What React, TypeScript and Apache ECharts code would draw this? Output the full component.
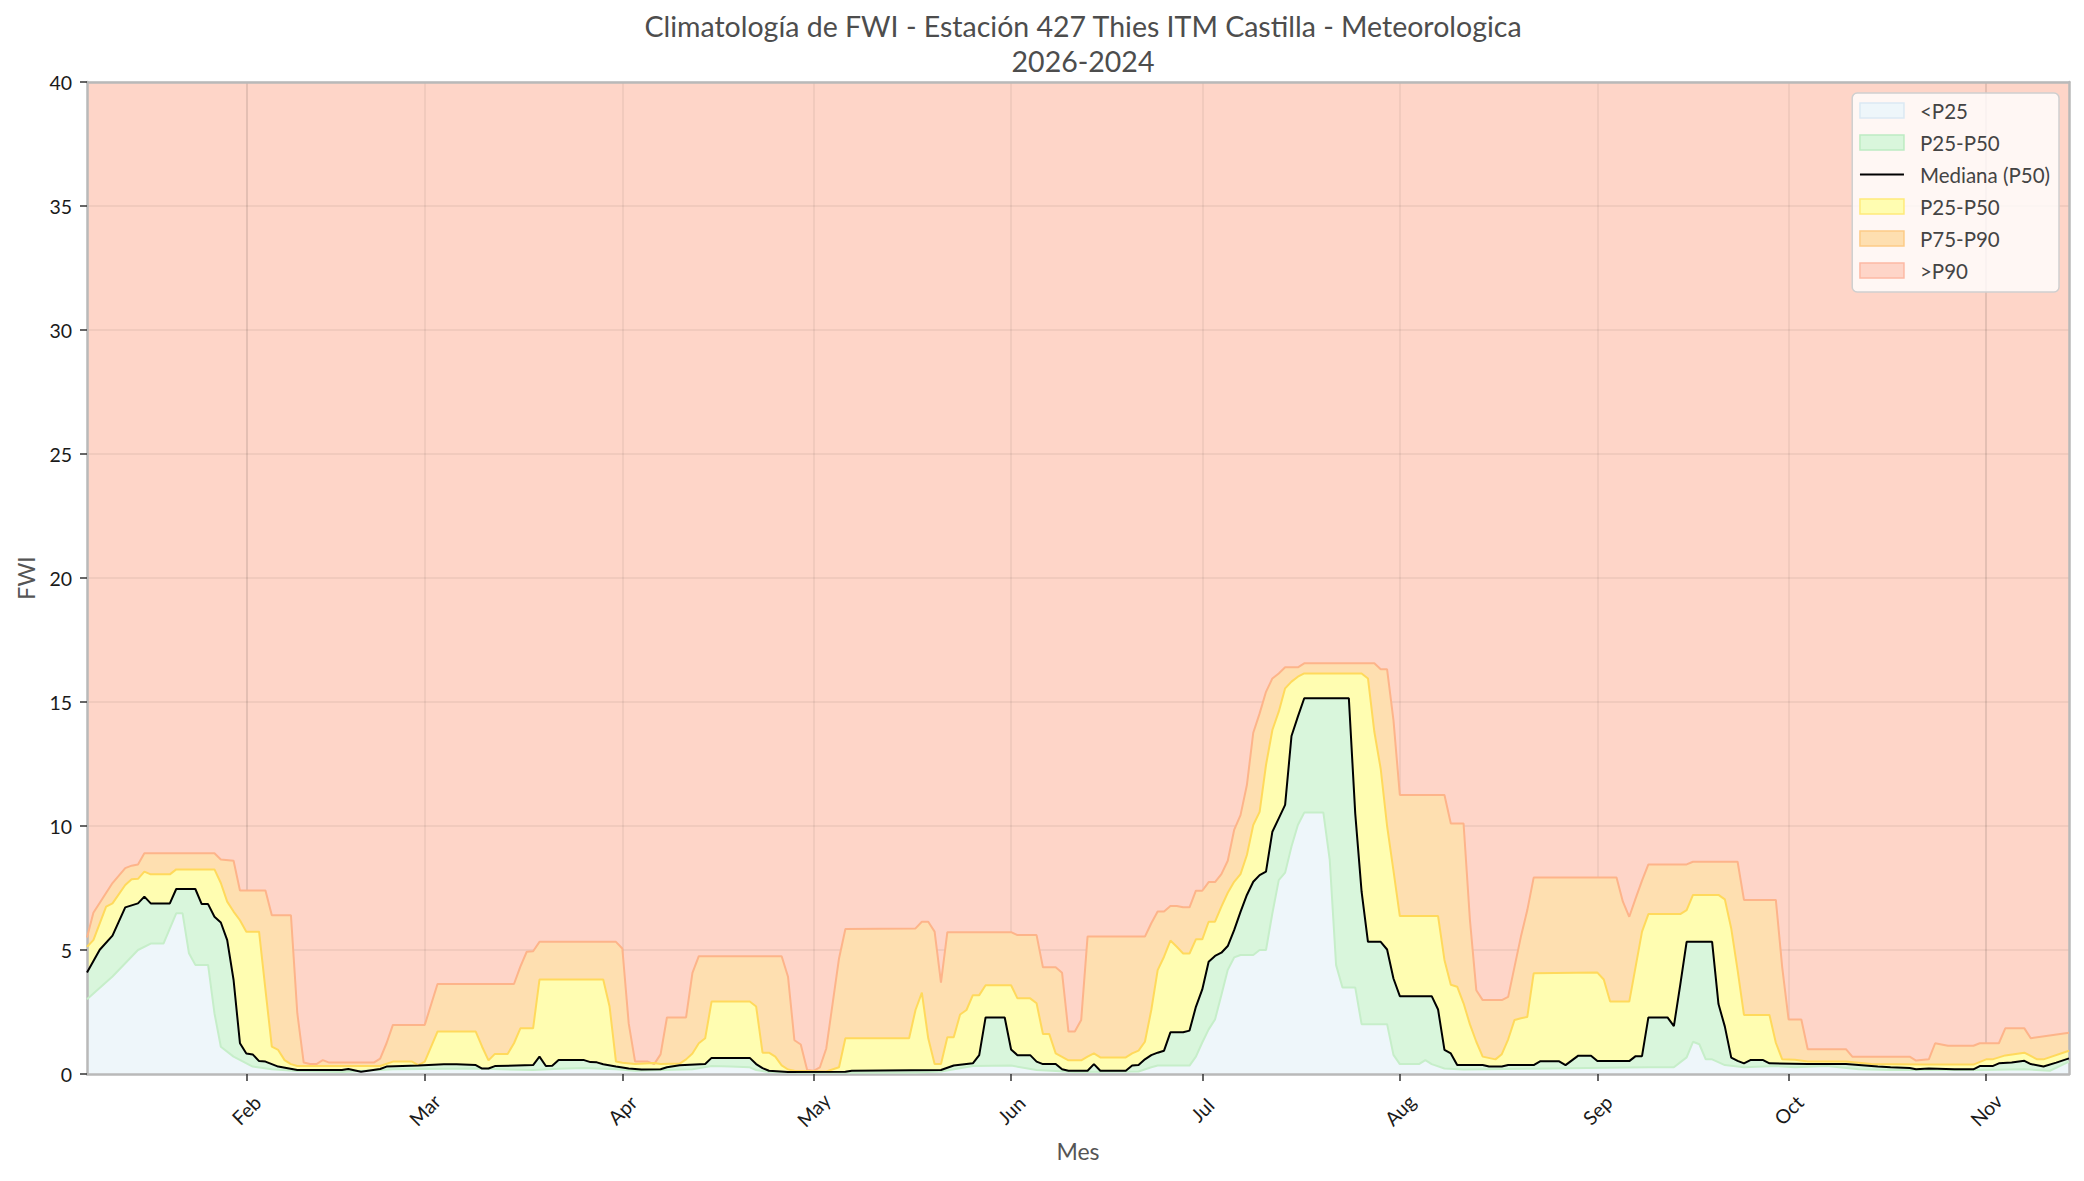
import { useEffect, useRef } from "react";
import * as echarts from "echarts";

const YEAR = 2023;
const FONT = "Lato, 'Open Sans', sans-serif";

// [MM-DD, FWI]
const p90Pts: [string, number][] = [
  ["01-07", 5.5], ["01-08", 6.5], ["01-11", 7.7], ["01-13", 8.3], ["01-14", 8.4], ["01-15", 8.45], ["01-16", 8.9],
  ["01-27", 8.9], ["01-28", 8.65], ["01-30", 8.6], ["01-31", 7.4], ["02-04", 7.4], ["02-05", 6.4], ["02-08", 6.4],
  ["02-09", 2.45], ["02-10", 0.46], ["02-11", 0.4], ["02-12", 0.4], ["02-13", 0.56], ["02-14", 0.46], ["02-21", 0.46],
  ["02-22", 0.62], ["02-23", 1.24], ["02-24", 1.98], ["03-01", 1.98], ["03-03", 3.63], ["03-15", 3.63], ["03-16", 4.33],
  ["03-17", 4.93], ["03-18", 4.95], ["03-19", 5.33], ["03-31", 5.33], ["04-01", 5.06], ["04-02", 2.04], ["04-03", 0.5],
  ["04-05", 0.5], ["04-06", 0.4], ["04-07", 0.79], ["04-08", 2.28], ["04-11", 2.28], ["04-12", 4.08], ["04-13", 4.75],
  ["04-26", 4.75], ["04-27", 3.92], ["04-28", 1.36], ["04-29", 1.19], ["04-30", 0.16], ["05-01", 0.13], ["05-02", 0.27],
  ["05-03", 1.03], ["05-05", 4.66], ["05-06", 5.85], ["05-17", 5.87], ["05-18", 6.14], ["05-19", 6.14], ["05-20", 5.74],
  ["05-21", 3.68], ["05-22", 5.72], ["06-01", 5.72], ["06-02", 5.6], ["06-05", 5.6], ["06-06", 4.3], ["06-08", 4.3],
  ["06-09", 4.08], ["06-10", 1.71], ["06-11", 1.71], ["06-12", 2.18], ["06-13", 5.54], ["06-22", 5.54], ["06-23", 6.08],
  ["06-24", 6.55], ["06-25", 6.55], ["06-26", 6.77], ["06-27", 6.77], ["06-28", 6.72], ["06-29", 6.72], ["06-30", 7.39],
  ["07-01", 7.39], ["07-02", 7.74], ["07-03", 7.74], ["07-04", 8.06], ["07-05", 8.6], ["07-06", 9.84], ["07-07", 10.44],
  ["07-08", 11.65], ["07-09", 13.76], ["07-10", 14.54], ["07-11", 15.41], ["07-12", 15.95], ["07-13", 16.15], ["07-14", 16.4],
  ["07-16", 16.4], ["07-17", 16.56], ["07-28", 16.56], ["07-29", 16.32], ["07-30", 16.32], ["07-31", 14.27], ["08-01", 11.25],
  ["08-08", 11.25], ["08-09", 10.1], ["08-11", 10.1], ["08-12", 6.21], ["08-13", 3.38], ["08-14", 2.98], ["08-17", 2.98],
  ["08-18", 3.11], ["08-19", 4.33], ["08-20", 5.54], ["08-21", 6.61], ["08-22", 7.92], ["09-04", 7.92], ["09-05", 6.95],
  ["09-06", 6.34], ["09-07", 7.08], ["09-08", 7.8], ["09-09", 8.45], ["09-15", 8.45], ["09-16", 8.56], ["09-23", 8.56],
  ["09-24", 7.02], ["09-29", 7.02], ["09-30", 4.3], ["10-01", 2.2], ["10-03", 2.2], ["10-04", 1.0], ["10-10", 1.0],
  ["10-11", 0.7], ["10-20", 0.7], ["10-21", 0.54], ["10-23", 0.59], ["10-24", 1.24], ["10-26", 1.14], ["10-30", 1.14],
  ["10-31", 1.24], ["11-03", 1.24], ["11-04", 1.84], ["11-07", 1.84], ["11-08", 1.44], ["11-14", 1.66],
];

const p75Pts: [string, number][] = [
  ["01-07", 5.13], ["01-08", 5.4], ["01-10", 6.75], ["01-11", 6.88], ["01-13", 7.62], ["01-14", 7.85], ["01-15", 7.87],
  ["01-16", 8.16], ["01-17", 8.05], ["01-20", 8.05], ["01-21", 8.25], ["01-27", 8.25], ["01-28", 7.7], ["01-29", 6.95],
  ["01-30", 6.55], ["01-31", 6.2], ["02-01", 5.74], ["02-03", 5.74], ["02-04", 3.4], ["02-05", 1.1], ["02-06", 0.97],
  ["02-07", 0.56], ["02-08", 0.4], ["02-09", 0.32], ["02-22", 0.32], ["02-24", 0.5], ["02-27", 0.5], ["02-28", 0.36],
  ["03-01", 0.5], ["03-03", 1.71], ["03-09", 1.71], ["03-10", 1.1], ["03-11", 0.55], ["03-12", 0.81], ["03-14", 0.81],
  ["03-15", 1.24], ["03-16", 1.84], ["03-18", 1.84], ["03-19", 3.81], ["03-29", 3.81], ["03-30", 2.72], ["03-31", 0.5],
  ["04-01", 0.45], ["04-03", 0.4], ["04-06", 0.44], ["04-07", 0.4], ["04-10", 0.42], ["04-11", 0.59], ["04-12", 0.83],
  ["04-13", 1.24], ["04-14", 1.44], ["04-15", 2.92], ["04-21", 2.92], ["04-22", 2.72], ["04-23", 0.86], ["04-24", 0.86],
  ["04-25", 0.7], ["04-26", 0.35], ["04-27", 0.18], ["04-28", 0.13], ["05-03", 0.1], ["05-05", 0.27], ["05-06", 1.44],
  ["05-16", 1.44], ["05-17", 2.58], ["05-18", 3.28], ["05-19", 1.44], ["05-20", 0.4], ["05-21", 0.4], ["05-22", 1.48],
  ["05-23", 1.48], ["05-24", 2.4], ["05-25", 2.58], ["05-26", 3.18], ["05-27", 3.18], ["05-28", 3.58], ["06-01", 3.58],
  ["06-02", 3.05], ["06-04", 3.05], ["06-05", 2.85], ["06-06", 1.61], ["06-07", 1.61], ["06-08", 0.83], ["06-10", 0.55],
  ["06-12", 0.55], ["06-13", 0.7], ["06-14", 0.83], ["06-15", 0.67], ["06-19", 0.67], ["06-20", 0.83], ["06-21", 0.94],
  ["06-22", 1.3], ["06-23", 2.58], ["06-24", 4.19], ["06-25", 4.73], ["06-26", 5.38], ["06-27", 5.13], ["06-28", 4.86],
  ["06-29", 4.86], ["06-30", 5.43], ["07-01", 5.43], ["07-02", 6.14], ["07-03", 6.14], ["07-04", 6.75], ["07-05", 7.31],
  ["07-06", 7.75], ["07-07", 8.06], ["07-08", 8.83], ["07-09", 10.04], ["07-10", 10.57], ["07-11", 12.46], ["07-12", 13.87],
  ["07-13", 14.61], ["07-14", 15.55], ["07-15", 15.82], ["07-16", 16.02], ["07-17", 16.15], ["07-26", 16.15], ["07-27", 15.95],
  ["07-28", 13.8], ["07-29", 12.3], ["07-30", 10.0], ["07-31", 8.2], ["08-01", 6.37], ["08-07", 6.37], ["08-08", 4.6],
  ["08-09", 3.6], ["08-10", 3.52], ["08-11", 2.85], ["08-12", 2.0], ["08-13", 1.3], ["08-14", 0.7], ["08-16", 0.59],
  ["08-17", 0.8], ["08-18", 1.4], ["08-19", 2.18], ["08-20", 2.25], ["08-21", 2.3], ["08-22", 4.06], ["09-01", 4.09],
  ["09-02", 3.81], ["09-03", 2.92], ["09-06", 2.92], ["09-07", 4.33], ["09-08", 5.74], ["09-09", 6.45], ["09-14", 6.45],
  ["09-15", 6.61], ["09-16", 7.22], ["09-20", 7.22], ["09-21", 7.04], ["09-22", 5.87], ["09-23", 4.19], ["09-24", 2.38],
  ["09-28", 2.38], ["09-29", 1.26], ["09-30", 0.59], ["10-02", 0.57], ["10-04", 0.5], ["10-10", 0.5], ["10-14", 0.4],
  ["10-22", 0.38], ["10-30", 0.38], ["11-01", 0.59], ["11-02", 0.59], ["11-04", 0.75], ["11-07", 0.86], ["11-09", 0.59],
  ["11-10", 0.59], ["11-14", 0.94],
];

const p50Pts: [string, number][] = [
  ["01-07", 4.09], ["01-09", 5.01], ["01-11", 5.58], ["01-13", 6.72], ["01-15", 6.88], ["01-16", 7.15], ["01-17", 6.88],
  ["01-20", 6.88], ["01-21", 7.46], ["01-24", 7.46], ["01-25", 6.85], ["01-26", 6.85], ["01-27", 6.34], ["01-28", 6.11],
  ["01-29", 5.4], ["01-30", 3.79], ["01-31", 1.24], ["02-01", 0.83], ["02-02", 0.79], ["02-03", 0.52], ["02-04", 0.5],
  ["02-06", 0.3], ["02-09", 0.16], ["02-16", 0.16], ["02-17", 0.2], ["02-19", 0.09], ["02-22", 0.2], ["02-23", 0.3],
  ["02-28", 0.34], ["03-04", 0.39], ["03-06", 0.39], ["03-09", 0.36], ["03-10", 0.22], ["03-11", 0.22], ["03-12", 0.32],
  ["03-18", 0.36], ["03-19", 0.7], ["03-20", 0.32], ["03-21", 0.33], ["03-22", 0.56], ["03-26", 0.56], ["03-27", 0.48],
  ["03-28", 0.47], ["03-29", 0.39], ["03-31", 0.3], ["04-02", 0.22], ["04-04", 0.18], ["04-07", 0.19], ["04-08", 0.27],
  ["04-10", 0.35], ["04-14", 0.4], ["04-15", 0.65], ["04-21", 0.65], ["04-22", 0.4], ["04-23", 0.24], ["04-24", 0.13],
  ["04-27", 0.08], ["05-06", 0.09], ["05-07", 0.13], ["05-21", 0.16], ["05-23", 0.34], ["05-26", 0.43], ["05-27", 0.76],
  ["05-28", 2.28], ["05-31", 2.28], ["06-01", 0.99], ["06-02", 0.76], ["06-04", 0.76], ["06-05", 0.5], ["06-06", 0.4],
  ["06-08", 0.4], ["06-09", 0.19], ["06-10", 0.13], ["06-13", 0.13], ["06-14", 0.4], ["06-15", 0.13], ["06-19", 0.13],
  ["06-20", 0.34], ["06-21", 0.36], ["06-22", 0.59], ["06-23", 0.76], ["06-24", 0.86], ["06-25", 0.94], ["06-26", 1.68],
  ["06-28", 1.68], ["06-29", 1.75], ["06-30", 2.71], ["07-01", 3.41], ["07-02", 4.53], ["07-03", 4.76], ["07-04", 4.89],
  ["07-05", 5.16], ["07-06", 5.8], ["07-07", 6.54], ["07-08", 7.22], ["07-09", 7.75], ["07-10", 8.02], ["07-11", 8.16],
  ["07-12", 9.77], ["07-13", 10.31], ["07-14", 10.85], ["07-15", 13.63], ["07-16", 14.41], ["07-17", 15.15], ["07-24", 15.15],
  ["07-25", 10.51], ["07-26", 7.35], ["07-27", 5.33], ["07-29", 5.33], ["07-30", 5.02], ["07-31", 3.85], ["08-01", 3.14],
  ["08-06", 3.14], ["08-07", 2.6], ["08-08", 0.97], ["08-09", 0.83], ["08-10", 0.36], ["08-14", 0.36], ["08-15", 0.3],
  ["08-17", 0.3], ["08-18", 0.36], ["08-22", 0.36], ["08-23", 0.51], ["08-26", 0.51], ["08-27", 0.36], ["08-29", 0.74],
  ["08-31", 0.74], ["09-01", 0.52], ["09-06", 0.52], ["09-07", 0.72], ["09-08", 0.72], ["09-09", 2.28], ["09-12", 2.28],
  ["09-13", 1.93], ["09-14", 3.59], ["09-15", 5.33], ["09-19", 5.33], ["09-20", 2.82], ["09-21", 1.91], ["09-22", 0.66],
  ["09-23", 0.53], ["09-24", 0.43], ["09-25", 0.56], ["09-27", 0.56], ["09-28", 0.43], ["10-04", 0.4], ["10-10", 0.4],
  ["10-12", 0.36], ["10-15", 0.3], ["10-17", 0.27], ["10-20", 0.24], ["10-21", 0.19], ["10-23", 0.22], ["10-27", 0.19],
  ["10-30", 0.19], ["10-31", 0.32], ["11-02", 0.32], ["11-03", 0.43], ["11-05", 0.46], ["11-07", 0.53], ["11-08", 0.4],
  ["11-10", 0.3], ["11-12", 0.46], ["11-14", 0.63],
];

const p25Pts: [string, number][] = [
  ["01-07", 3.01], ["01-11", 3.93], ["01-15", 5.0], ["01-17", 5.26], ["01-19", 5.26], ["01-21", 6.48], ["01-22", 6.48],
  ["01-23", 4.87], ["01-24", 4.4], ["01-26", 4.4], ["01-27", 2.45], ["01-28", 1.1], ["01-30", 0.7], ["02-02", 0.3],
  ["02-05", 0.19], ["02-09", 0.12], ["02-16", 0.08], ["02-24", 0.19], ["03-09", 0.22], ["03-18", 0.16], ["03-22", 0.21],
  ["03-26", 0.24], ["03-31", 0.19], ["04-03", 0.13], ["04-12", 0.19], ["04-15", 0.32], ["04-18", 0.3], ["04-21", 0.27],
  ["04-22", 0.16], ["04-24", 0.08], ["04-29", 0.05], ["05-17", 0.06], ["05-21", 0.1], ["05-26", 0.32], ["06-01", 0.34],
  ["06-05", 0.16], ["06-11", 0.08], ["06-21", 0.1], ["06-23", 0.27], ["06-24", 0.34], ["06-29", 0.34], ["06-30", 0.7],
  ["07-01", 1.27], ["07-02", 1.8], ["07-03", 2.2], ["07-04", 3.19], ["07-05", 4.2], ["07-06", 4.7], ["07-07", 4.8],
  ["07-09", 4.8], ["07-10", 5.0], ["07-11", 5.0], ["07-12", 6.48], ["07-13", 7.82], ["07-14", 8.12], ["07-15", 9.17],
  ["07-16", 10.04], ["07-17", 10.54], ["07-20", 10.54], ["07-21", 8.63], ["07-22", 4.39], ["07-23", 3.49], ["07-25", 3.49],
  ["07-26", 2.01], ["07-30", 2.01], ["07-31", 0.77], ["08-01", 0.4], ["08-04", 0.4], ["08-05", 0.56], ["08-06", 0.4],
  ["08-08", 0.22], ["08-11", 0.18], ["08-24", 0.22], ["09-09", 0.27], ["09-13", 0.27], ["09-15", 0.67], ["09-16", 1.3],
  ["09-17", 1.2], ["09-18", 0.59], ["09-19", 0.59], ["09-21", 0.36], ["09-24", 0.27], ["09-29", 0.32], ["10-02", 0.27],
  ["10-07", 0.32], ["10-12", 0.19], ["10-17", 0.16], ["10-31", 0.16], ["11-07", 0.19], ["11-11", 0.13], ["11-14", 0.5],
];

const monthTicks: string[] = ["02-01", "03-01", "04-01", "05-01", "06-01", "07-01", "08-01", "09-01", "10-01", "11-01"];
const yTicks = { min: 0, max: 40, step: 5 };
const xRange = { start: "01-07", end: "11-14" };

const C_BLUE = "#EEF6FA";
const C_GREEN = "#D9F6DC";
const C_YELLOW = "#FFFDB1";
const C_ORANGE = "#FEDFB0";
const C_SALMON = "#FED5C8";

const ts = (md: string) => {
  const [m, d] = md.split("-").map(Number);
  return new Date(YEAR, m - 1, d).getTime();
};
const toSeries = (pts: [string, number][]) => pts.map(([md, v]) => [ts(md), v]);

export default function App() {
  const ref = useRef<HTMLDivElement>(null);
  useEffect(() => {
    document.body.style.margin = "0";
    if (!ref.current) return;
    const chart = echarts.init(ref.current, null, { renderer: "svg" });
    const tickVals = monthTicks.map(ts);
    const axisName = { fontSize: 23, color: "#555", fontFamily: FONT };
    const spine = { show: true, onZero: false, lineStyle: { color: "#b9b9b9", width: 2.5 } };
    const grid = { show: true, lineStyle: { color: "rgba(0,0,0,0.07)", width: 1.5 } };
    const option: any = {
      animation: false,
      textStyle: { fontFamily: FONT },
      title: {
        text: "Climatología de FWI - Estación 427 Thies ITM Castilla - Meteorologica\n2026-2024",
        left: 1078,
        top: 3,
        textAlign: "center",
        textStyle: { fontSize: 28.5, fontWeight: "normal", color: "#4d4d4d", lineHeight: 35, fontFamily: FONT },
      },
      grid: { left: 87, right: 15, top: 82, bottom: 107, show: true, backgroundColor: C_SALMON, borderWidth: 0 },
      legend: {
        orient: "vertical",
        right: 25,
        top: 93,
        itemWidth: 44,
        itemHeight: 15,
        itemGap: 11,
        padding: [7, 9, 11, 7],
        backgroundColor: "rgba(255,255,255,0.8)",
        borderColor: "#cfcfcf",
        borderWidth: 1.5,
        borderRadius: 5,
        textStyle: { fontSize: 20.5, color: "#444", lineHeight: 20, padding: [0, 0, 0, 11], fontFamily: FONT },
        formatter: (n: string) => (n === "P50-P75" ? "P25-P50" : n),
        data: [
          { name: "<P25", icon: "rect", itemStyle: { color: C_BLUE, borderColor: "#dbe9f3", borderWidth: 1.5 } },
          { name: "P25-P50", icon: "rect", itemStyle: { color: C_GREEN, borderColor: "#bdebc2", borderWidth: 1.5 } },
          { name: "Mediana (P50)", icon: "path://M0,0H40V2H0Z", itemStyle: { color: "#000" } },
          { name: "P50-P75", icon: "rect", itemStyle: { color: C_YELLOW, borderColor: "#ffea7a", borderWidth: 1.5 } },
          { name: "P75-P90", icon: "rect", itemStyle: { color: C_ORANGE, borderColor: "#fdcb86", borderWidth: 1.5 } },
          { name: ">P90", icon: "rect", itemStyle: { color: C_SALMON, borderColor: "#fdb9a4", borderWidth: 1.5 } },
        ],
      },
      xAxis: [
        {
          type: "time",
          min: ts(xRange.start),
          max: ts(xRange.end),
          z: 3,
          axisLine: spine,
          axisTick: { show: true, length: 7, customValues: tickVals, lineStyle: { color: "#333", width: 1.5 } },
          axisLabel: {
            customValues: tickVals,
            formatter: "{MMM}",
            rotate: 45,
            align: "center",
            verticalAlign: "middle",
            margin: 36,
            fontSize: 19.5,
            color: "#1a1a1a",
            fontFamily: FONT,
          },
          splitLine: grid,
          name: "Mes",
          nameLocation: "middle",
          nameGap: 65,
          nameTextStyle: axisName,
        },
        {
          type: "time",
          position: "top",
          min: ts(xRange.start),
          max: ts(xRange.end),
          z: 3,
          axisLine: spine,
          axisTick: { show: false },
          axisLabel: { show: false },
          splitLine: { show: false },
        },
      ],
      yAxis: [
        {
          type: "value",
          min: yTicks.min,
          max: yTicks.max,
          interval: yTicks.step,
          z: 3,
          axisLine: spine,
          axisTick: { show: true, length: 7, lineStyle: { color: "#333", width: 1.5 } },
          axisLabel: { fontSize: 19.5, color: "#1a1a1a", margin: 15, fontFamily: FONT },
          splitLine: grid,
          name: "FWI",
          nameLocation: "middle",
          nameGap: 50,
          nameTextStyle: axisName,
        },
        {
          type: "value",
          position: "right",
          min: yTicks.min,
          max: yTicks.max,
          z: 3,
          axisLine: spine,
          axisTick: { show: false },
          axisLabel: { show: false },
          splitLine: { show: false },
        },
      ],
      series: [
        {
          name: ">P90",
          type: "line",
          data: [],
          symbol: "none",
          itemStyle: { color: C_SALMON },
        },
        {
          name: "P75-P90",
          type: "line",
          data: toSeries(p90Pts),
          symbol: "none",
          itemStyle: { color: C_ORANGE },
          lineStyle: { color: "#FDB48A", width: 2 },
          areaStyle: { color: C_ORANGE, opacity: 1, origin: "start" },
        },
        {
          name: "P50-P75",
          type: "line",
          data: toSeries(p75Pts),
          symbol: "none",
          itemStyle: { color: C_YELLOW },
          lineStyle: { color: "#FFD95C", width: 2 },
          areaStyle: { color: C_YELLOW, opacity: 1, origin: "start" },
        },
        {
          name: "P25-P50",
          type: "line",
          data: toSeries(p50Pts),
          symbol: "none",
          itemStyle: { color: C_GREEN },
          lineStyle: { width: 0 },
          areaStyle: { color: C_GREEN, opacity: 1, origin: "start" },
        },
        {
          name: "<P25",
          type: "line",
          data: toSeries(p25Pts),
          symbol: "none",
          itemStyle: { color: C_BLUE },
          lineStyle: { color: "#C6EEC9", width: 2 },
          areaStyle: { color: C_BLUE, opacity: 1, origin: "start" },
        },
        {
          name: "Mediana (P50)",
          type: "line",
          data: toSeries(p50Pts),
          symbol: "none",
          itemStyle: { color: "#000" },
          lineStyle: { color: "#000", width: 2 },
        },
      ],
    };
    chart.setOption(option);
    return () => chart.dispose();
  }, []);
  return <div ref={ref} style={{ width: 2084, height: 1181 }} />;
}
